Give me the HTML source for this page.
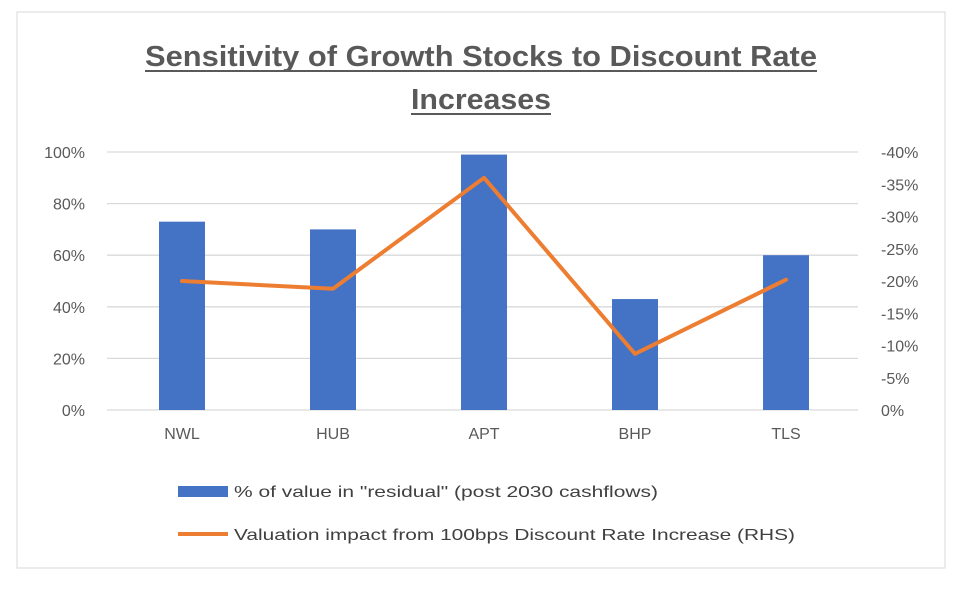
<!DOCTYPE html>
<html><head><meta charset="utf-8"><style>
body{margin:0;background:#fff;}
svg{display:block;font-family:"Liberation Sans",sans-serif;}
</style></head><body>
<svg width="968" height="592">
<rect x="17" y="12" width="928" height="556" fill="#fff" stroke="#d9d9d9"/>
<text x="481" y="66" text-anchor="middle" font-size="29" font-weight="bold" fill="#595959" textLength="672" lengthAdjust="spacingAndGlyphs">Sensitivity of Growth Stocks to Discount Rate</text>
<line x1="145" y1="71" x2="817" y2="71" stroke="#595959" stroke-width="2"/>
<text x="481" y="109" text-anchor="middle" font-size="29" font-weight="bold" fill="#595959" textLength="140" lengthAdjust="spacingAndGlyphs">Increases</text>
<line x1="411" y1="114" x2="551" y2="114" stroke="#595959" stroke-width="2"/>
<g id="grid"></g><g id="bars"></g><g id="line"></g><g id="axes"></g>
<g>
<rect x="178" y="486" width="50" height="11" fill="#4472c4"/>
<text x="234" y="497" font-size="16" fill="#404040" textLength="424" lengthAdjust="spacingAndGlyphs">% of value in "residual" (post 2030 cashflows)</text>
<line x1="178" y1="534" x2="228" y2="534" stroke="#ed7d31" stroke-width="4"/>
<text x="234" y="540" font-size="16" fill="#404040" textLength="561" lengthAdjust="spacingAndGlyphs">Valuation impact from 100bps Discount Rate Increase (RHS)</text>
</g>
</svg>
<script>
const categories=["NWL","HUB","APT","BHP","TLS"];
const residualPct=[73,70,99,43,60];
const valuationImpact=[20,18.8,36,8.7,20.2];
const leftTicks=[0,20,40,60,80,100];
const rightTicks=[0,5,10,15,20,25,30,35,40];
const NS="http://www.w3.org/2000/svg";
const x0=107,x1=858,yB=410,yT=152;
const yL=v=>yB-(v/100)*(yB-yT);
const yR=v=>yB-(v/40)*(yB-yT);
const xC=i=>182+i*151;
function mk(tag,attrs,parent,text){const e=document.createElementNS(NS,tag);for(const k in attrs)e.setAttribute(k,attrs[k]);if(text!=null)e.textContent=text;document.getElementById(parent).appendChild(e);return e;}
leftTicks.forEach(t=>{
 const l=mk('line',{x1:x0,x2:x1,y1:yL(t),y2:yL(t),stroke:'#d9d9d9','stroke-width':1.3},'grid');
 
 
 const tx=mk('text',{x:85,y:yL(t)+6,'text-anchor':'end','font-size':16,fill:'#595959'},'axes',t+'%');
 
 
});
rightTicks.forEach(t=>{
 const tx=mk('text',{x:881,y:yR(t)+6,'font-size':16,fill:'#595959'},'axes',(t===0?'0':'-'+t)+'%');
 
 
});
categories.forEach((c,i)=>{
 const r=mk('rect',{x:xC(i)-23,y:yL(residualPct[i]),width:46,height:yB-yL(residualPct[i]),fill:'#4472c4'},'bars');
 
 
 const tx=mk('text',{x:xC(i),y:yB+29,'text-anchor':'middle','font-size':16,fill:'#595959'},'axes',c);
 
 
});
const pl=mk('polyline',{points:valuationImpact.map((v,i)=>xC(i)+','+yR(v)).join(' '),fill:'none',stroke:'#ed7d31','stroke-width':4,'stroke-linejoin':'round','stroke-linecap':'round'},'line');


</script>
</body></html>
